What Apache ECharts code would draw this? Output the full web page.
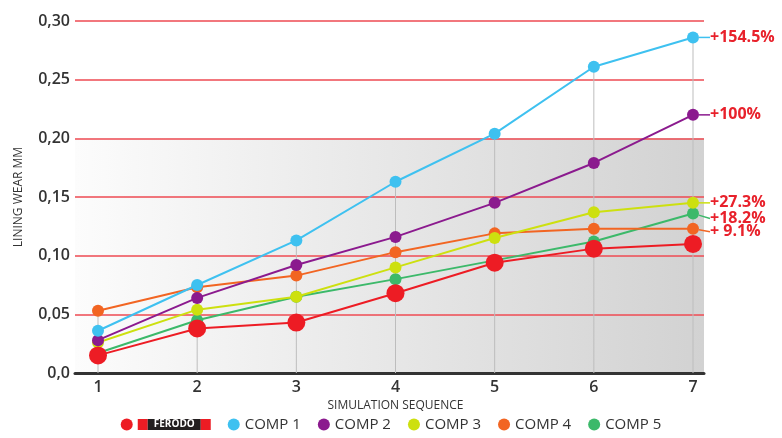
<!DOCTYPE html>
<html>
<head>
<meta charset="utf-8">
<script src="https://cdn.jsdelivr.net/npm/echarts@6/dist/echarts.min.js"></script>
<style>
html,body{margin:0;padding:0;background:#fff;}
#chart{width:782px;height:438px;}
</style>
</head>
<body>
<div id="chart"></div>
<script>
const categories = [1, 2, 3, 4, 5, 6, 7];
const ferodo = [0.015, 0.038, 0.043, 0.068, 0.094, 0.106, 0.110];
const comp1  = [0.036, 0.075, 0.113, 0.163, 0.204, 0.261, 0.286];
const comp2  = [0.028, 0.064, 0.092, 0.116, 0.145, 0.179, 0.220];
const comp3  = [0.026, 0.054, 0.065, 0.090, 0.115, 0.137, 0.145];
const comp4  = [0.053, 0.073, 0.083, 0.103, 0.119, 0.123, 0.123];
const comp5  = [0.017, 0.045, 0.065, 0.080, 0.096, 0.112, 0.136];
const seriesNames = ['FERODO', 'COMP 1', 'COMP 2', 'COMP 3', 'COMP 4', 'COMP 5'];
const endLabels = ['', '+154.5%', '+100%', '+27.3%', '+ 9.1%', '+18.2%'];
const yTickValues = [0, 0.05, 0.10, 0.15, 0.20, 0.25, 0.30];

const colors = ['#ed1c24', '#3ec1f0', '#8b1a8e', '#cde00f', '#f26522', '#3cb96a'];
const allValues = [ferodo, comp1, comp2, comp3, comp4, comp5];
const labelDy = [0, 0, 0, 0, 3, 5];
const FONT = '"Open Sans", "Noto Sans", sans-serif';

const chart = echarts.init(document.getElementById('chart'));

const shade = {
  type: 'linear', x: 0, y: 0, x2: 1, y2: 0,
  colorStops: [{offset: 0, color: '#fcfcfc'}, {offset: 1, color: '#d2d2d2'}]
};

const dropData = categories.map((c, i) => [c, Math.max(...allValues.map(a => a[i]))]);

const drawOrder = [5, 4, 3, 2, 1, 0];
const lineSeries = drawOrder.map(si => ({
  name: seriesNames[si],
  type: 'line',
  xAxisIndex: 1, yAxisIndex: 1,
  z: 3 + (6 - si),
  data: categories.map((c, i) => {
    const item = {value: [c, allValues[si][i]]};
    if (i === categories.length - 1 && endLabels[si]) {
      item.label = {show: true, formatter: endLabels[si], position: 'right', distance: 11};
    }
    return item;
  }),
  symbol: 'circle',
  symbolSize: si === 0 ? 18 : 12,
  itemStyle: {color: colors[si]},
  lineStyle: {color: colors[si], width: 2},
  label: {
    show: false,
    color: '#e8212b', fontWeight: 'bold', fontSize: 16, fontFamily: FONT
  },
  labelLayout: function () { return {dy: labelDy[si]}; },
  labelLine: {show: true, lineStyle: {color: colors[si], width: 1.5}},
  animation: false
}));

const option = {
  backgroundColor: '#ffffff',
  animation: false,
  grid: [
    {left: 75, right: 78, top: 21, bottom: 65},
    {left: 98, right: 89, top: 21, bottom: 65}
  ],
  xAxis: [
    {
      type: 'value', gridIndex: 0, min: 0, max: 1,
      axisLine: {show: true, lineStyle: {color: '#333333', width: 3}},
      axisTick: {show: false}, axisLabel: {show: false}, splitLine: {show: false}
    },
    {
      type: 'value', gridIndex: 1, min: 1, max: 7, interval: 1,
      axisLine: {show: false}, axisTick: {show: false}, splitLine: {show: false},
      axisLabel: {color: '#333333', fontSize: 16, fontWeight: 600, fontFamily: FONT, margin: 6},
      name: 'SIMULATION SEQUENCE', nameLocation: 'middle', nameGap: 26,
      nameTextStyle: {color: '#333333', fontSize: 12, fontFamily: FONT}
    }
  ],
  yAxis: [
    {
      type: 'value', gridIndex: 0, min: 0, max: 0.30, interval: 0.05,
      axisLine: {show: false}, axisTick: {show: false},
      axisLabel: {
        color: '#333333', fontSize: 16, fontWeight: 600, fontFamily: FONT, margin: 5,
        formatter: v => {
          const t = yTickValues.find(x => Math.abs(x - v) < 1e-9);
          if (t === undefined) return '';
          return t === 0 ? '0,0' : t.toFixed(2).replace('.', ',');
        }
      },
      splitLine: {show: true, lineStyle: {color: '#ee4a52', width: 1.5}},
      splitArea: {show: true, areaStyle: {color: [shade, shade, shade, shade, 'rgba(0,0,0,0)', 'rgba(0,0,0,0)']}},
      name: 'LINING WEAR MM', nameLocation: 'middle', nameGap: 50,
      nameTextStyle: {color: '#333333', fontSize: 12, fontFamily: FONT}
    },
    {
      type: 'value', gridIndex: 1, min: 0, max: 0.30, interval: 0.05, show: false
    }
  ],
  legend: {
    bottom: 1, left: 'center',
    icon: 'circle', itemWidth: 12, itemHeight: 12, itemGap: 17,
    data: seriesNames,
    textStyle: {
      color: '#333333', fontSize: 15, fontFamily: FONT,
      rich: {
        r: {backgroundColor: '#ed1c24', width: 10, height: 11, fontSize: 1},
        k: {backgroundColor: '#231f20', color: '#ffffff', fontWeight: 'bold', fontSize: 10,
            width: 53, height: 11, align: 'center', fontFamily: FONT}
      }
    },
    formatter: n => n === 'FERODO' ? '{r| }{k|FERODO}{r| }' : n
  },
  series: [
    {
      type: 'bar', xAxisIndex: 1, yAxisIndex: 1, data: dropData,
      barWidth: 1, itemStyle: {color: '#bdbdbd'}, z: 1, silent: true,
      legendHoverLink: false, tooltip: {show: false}
    }
  ].concat(lineSeries)
};
chart.setOption(option);
</script>
</body>
</html>
